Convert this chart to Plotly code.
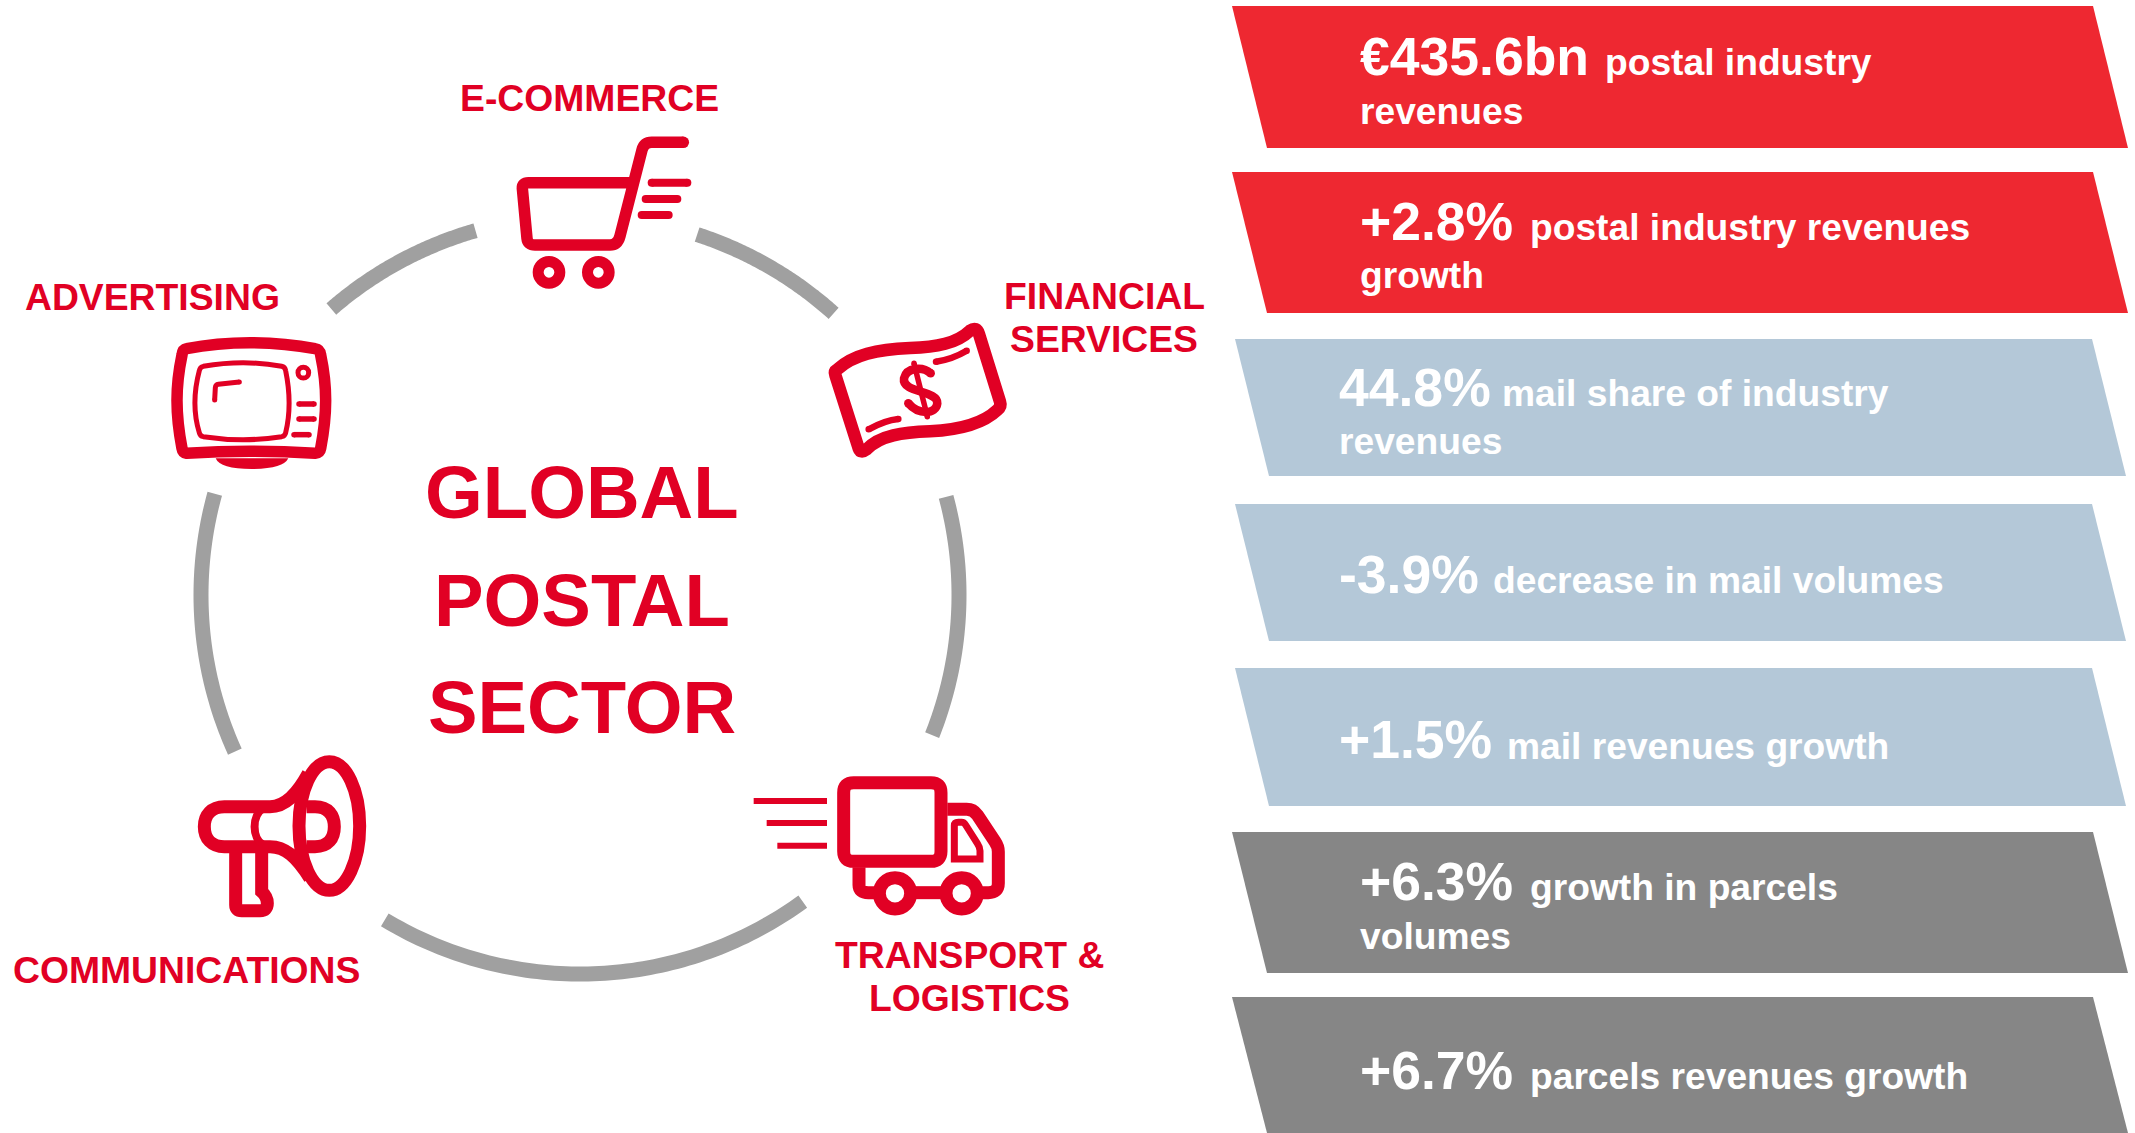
import re
import numpy as np
import plotly.graph_objects as go

W, H = 2135, 1133
RED_TEXT = "#E10024"
RED_BAR = "#EE2831"
BLUE_BAR = "#B4C8D8"
GRAY_BAR = "#868686"
RING = "#A0A0A0"
FONT = "Liberation Sans"
BIG, SMALL = 53.5, 37.2

# ---- banner data
banner_big = ["€435.6bn", "+2.8%", "44.8%", "-3.9%", "+1.5%", "+6.3%", "+6.7%"]
banner_line1 = ["postal industry", "postal industry revenues", "mail share of industry",
                "decrease in mail volumes", "mail revenues growth", "growth in parcels",
                "parcels revenues growth"]
banner_line2 = ["revenues", "growth", "revenues", "", "", "volumes", ""]
banner_color = [RED_BAR, RED_BAR, BLUE_BAR, BLUE_BAR, BLUE_BAR, GRAY_BAR, GRAY_BAR]
banner_top = [6, 172, 339, 504, 668, 832, 997]
banner_bottom = [148, 313, 476, 641, 806, 973, 1133]
banner_left = [1232, 1232, 1235, 1235, 1235, 1232, 1232]
banner_right = [2093, 2093, 2092, 2092, 2092, 2093, 2093]
banner_slant = [35, 35, 34, 34, 34, 35, 35]
banner_text_x = [1358, 1358, 1337, 1337, 1337, 1358, 1358]
banner_small_x = [1603, 1528, 1499.5, 1491, 1505, 1528, 1528]
banner_base1 = [74, 239, 405, 592, 757.5, 899, 1088]
banner_base2 = [123, 287, 453, None, None, 948, None]

# ---- ring data (degrees clockwise from top)
ring_center = (580, 595)
ring_radius = 379
ring_start = [-41, 18, 75, 144, 245.6]
ring_end = [-16, 42, 111.7, 211, 285.5]

# ---- labels
labels = ["E-COMMERCE", "ADVERTISING", "FINANCIAL", "SERVICES", "COMMUNICATIONS", "TRANSPORT &", "LOGISTICS"]
label_x = [589, 152, 1104, 1104, 186, 969, 969]
label_y = [98, 297, 296, 339, 970, 955, 998]
title_lines = ["GLOBAL", "POSTAL", "SECTOR"]
title_y = [492, 600, 707]

fig = go.Figure()
shapes = []
ann = []


def tp(path, ox, oy):
    """Zoom-crop coordinates (3x) to page pixels."""
    out = []
    i = 0
    for tok in path.split():
        if re.match(r"^[A-Za-z]$", tok):
            out.append(tok)
        else:
            v = float(tok) / 3 + (ox if i % 2 == 0 else oy)
            out.append(f"{v:.2f}")
            i += 1
    return " ".join(out)


def stroke(path, width, o, caps=(), fill=None, color=RED_TEXT):
    s = dict(type="path", path=tp(path, *o), line=dict(color=color, width=width), xref="x", yref="y")
    if fill:
        s["fillcolor"] = fill
    shapes.append(s)
    for (cx, cy) in caps:
        dot(cx, cy, width / 2, o)


def dot(cx, cy, r, o):
    x, y = cx / 3 + o[0], cy / 3 + o[1]
    shapes.append(dict(type="circle", x0=x - r, x1=x + r, y0=y - r, y1=y + r, xref="x", yref="y",
                       fillcolor=RED_TEXT, line=dict(width=0)))


def ring(cx, cy, rx, ry, width, o):
    x, y = cx / 3 + o[0], cy / 3 + o[1]
    rx, ry = rx / 3, ry / 3
    shapes.append(dict(type="circle", x0=x - rx, x1=x + rx, y0=y - ry, y1=y + ry, xref="x", yref="y",
                       line=dict(color=RED_TEXT, width=width)))


def seg(x0, y0, x1, y1, width, o, round_cap=True):
    stroke(f"M {x0} {y0} L {x1} {y1}", width, o, caps=[(x0, y0), (x1, y1)] if round_cap else ())


def white_text(x, base, text, size):
    ann.append(dict(x=x, y=base - 0.905 * size - 1, xanchor="left", yanchor="top", text=text,
                    font=dict(family=FONT, size=size, color="white", weight="bold")))


# banners
for i in range(len(banner_big)):
    t, b, l, r, s = banner_top[i], banner_bottom[i], banner_left[i], banner_right[i], banner_slant[i]
    shapes.append(dict(type="path", path=f"M {l} {t} L {r} {t} L {r + s} {b} L {l + s} {b} Z",
                       fillcolor=banner_color[i], line=dict(width=0), xref="x", yref="y", layer="below"))
    white_text(banner_text_x[i], banner_base1[i], banner_big[i], BIG)
    white_text(banner_small_x[i], banner_base1[i], banner_line1[i], SMALL)
    if banner_line2[i]:
        white_text(banner_text_x[i], banner_base2[i], banner_line2[i], SMALL)

# ring arcs
for a0, a1 in zip(ring_start, ring_end):
    th = np.radians(np.linspace(a0, a1, 80))
    fig.add_trace(go.Scatter(x=ring_center[0] + ring_radius * np.sin(th),
                             y=ring_center[1] - ring_radius * np.cos(th),
                             mode="lines", line=dict(color=RING, width=15, simplify=False),
                             hoverinfo="skip", showlegend=False))

# labels
for t, x, y in zip(labels, label_x, label_y):
    ann.append(dict(x=x, y=y, xanchor="center", yanchor="middle", text=t, align="center",
                    font=dict(family=FONT, size=37.3, color=RED_TEXT, weight="bold")))
for t, y in zip(title_lines, title_y):
    ann.append(dict(x=582, y=y, xanchor="center", yanchor="middle", text=t,
                    font=dict(family=FONT, size=74.3, color=RED_TEXT, weight="bold")))

# cart
o = (480, 60)
stroke("M 610 247 L 515 247 Q 492 247 486 270 L 420 528 Q 413 555 390 555 L 165 555 Q 143 555 141 535 "
       "L 127 385 Q 126 368 145 368 L 470 368", 11.5, o, caps=[(610, 247)])
seg(515, 368, 622, 368, 8, o)
seg(497, 417, 592, 417, 8, o)
seg(485, 465, 566, 465, 8, o)
ring(207, 637, 32.5, 32.5, 11, o)
ring(355, 637, 32.5, 32.5, 11, o)

# bill
o = (810, 310)
stroke("M 82 178 C 130 135 200 118 300 114 C 380 112 440 100 480 62 Q 500 48 507 72 L 570 275 Q 575 290 562 300 "
       "C 515 345 440 360 360 364 C 280 367 210 375 170 418 Q 152 432 146 415 L 76 195 Q 72 184 82 178 Z", 12.5, o)
stroke("M 378 155 C 410 150 440 140 470 122", 6.5, o, caps=[(378, 155), (470, 122)])
stroke("M 176 358 C 205 342 235 330 265 327", 6.5, o, caps=[(176, 358), (265, 327)])
stroke("M 362 190 C 340 170 290 170 282 205 C 275 250 385 240 382 280 C 378 315 325 315 295 280", 8.5, o,
       caps=[(362, 190), (295, 280)])
seg(312, 160, 352, 320, 5.5, o)

# tv
o = (150, 320)
stroke("M 110 86 C 230 62 370 62 495 86 Q 510 88 512 105 C 532 200 532 280 512 385 Q 510 398 495 400 "
       "C 370 392 230 392 110 400 Q 98 398 96 385 C 76 280 76 200 96 105 Q 98 88 110 86 Z", 11.5, o)
shapes.append(dict(type="path", path=tp("M 197 415 Q 210 447 305 447 Q 400 447 415 415 Z", *o),
                   fillcolor=RED_TEXT, line=dict(width=0), xref="x", yref="y"))
stroke("M 160 139 C 240 125 320 125 395 139 Q 405 141 407 152 C 421 220 421 280 407 338 Q 405 348 395 350 "
       "C 320 362 240 362 160 350 Q 150 348 148 338 C 130 280 130 220 148 152 Q 150 141 160 139 Z", 5, o)
stroke("M 268 186 L 205 193 Q 197 194 196 203 L 194 240", 5, o, caps=[(268, 186), (194, 240)])
ring(460, 158, 16, 16, 5, o)
seg(447, 252, 492, 252, 5.5, o)
seg(447, 297, 492, 297, 5.5, o)
seg(432, 344, 477, 344, 5.5, o)

# megaphone
o = (180, 740)
ring(448, 258, 91, 193, 13, o)
stroke("M 270 200 C 315 200 350 165 385 100", 13, o)
stroke("M 270 320 C 315 320 350 350 390 415", 13, o)
stroke("M 270 200 L 133 200 C 95 200 73 225 73 260 C 73 295 95 320 133 320 L 270 320", 13, o)
stroke("M 250 205 C 215 225 215 295 250 315", 8, o)
stroke("M 380 200 L 405 200 C 445 200 463 225 463 260 C 463 295 445 320 405 320 L 380 320", 13, o)
stroke("M 167 320 L 167 495 Q 167 512 185 512 L 240 512 Q 262 512 262 490 Q 262 470 245 455 L 245 320", 13, o)

# truck
o = (740, 760)
stroke("M 341 68 L 573 68 Q 603 68 603 98 L 603 274 Q 603 304 573 304 L 341 304 Q 311 304 311 274 "
       "L 311 98 Q 311 68 341 68 Z", 13, o)
stroke("M 622 148 L 680 148 Q 700 148 712 165 L 765 245 Q 775 260 775 275 L 775 370 Q 775 398 745 398 L 725 398", 13, o)
stroke("M 357 322 L 357 375 Q 357 398 385 398 L 410 398", 13, o)
stroke("M 520 398 L 610 398", 13, o)
ring(465, 400, 47, 47, 13, o)
ring(665, 400, 47, 47, 13, o)
stroke("M 643 197 Q 643 187 655 187 L 665 187 Q 672 187 677 195 L 712 250 Q 720 262 720 272 L 720 297 L 643 297 Z", 7, o)
seg(41, 123, 261, 123, 6, o, round_cap=False)
seg(80, 189, 261, 189, 6, o, round_cap=False)
seg(112, 257, 261, 257, 6, o, round_cap=False)

for a in ann:
    a["showarrow"] = False
    a["xref"] = "x"
    a["yref"] = "y"

fig.update_layout(
    width=W, height=H, margin=dict(l=0, r=0, t=0, b=0),
    paper_bgcolor="white", plot_bgcolor="white", showlegend=False,
    xaxis=dict(range=[0, W], visible=False, fixedrange=True),
    yaxis=dict(range=[H, 0], visible=False, fixedrange=True),
    shapes=shapes, annotations=ann,
)
fig.write_html("out.html", config={"displayModeBar": False},
               post_script="document.body.style.margin='0';")
